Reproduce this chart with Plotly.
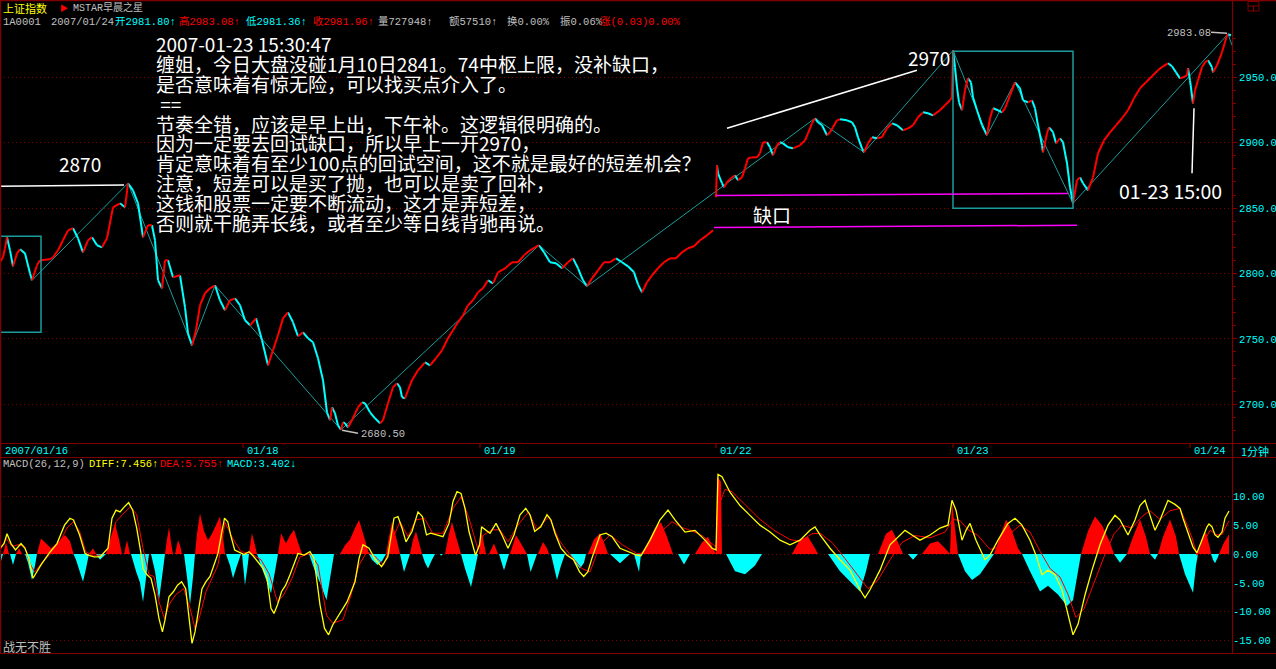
import plotly.graph_objects as go

W, H = 1276, 669

# ---------------- price panel: 1-minute closes, 2007/01/16 .. 01/24 ----------------
PRICE_X = [0, 3, 5, 7, 10, 13, 17, 20, 25, 30, 32, 37, 40, 50, 53, 58, 63, 68, 73, 78, 83, 88, 92, 97,
           102, 107, 113, 120, 125, 128, 133, 138, 143, 148, 152, 155, 158, 162, 165, 168, 173, 180,
           185, 188, 192, 196, 200, 205, 210, 215, 220, 225, 230, 235, 240, 245, 250, 256, 262, 268,
           273, 278, 283, 288, 293, 298, 303, 308, 313, 318, 323, 327, 330, 332, 335, 338, 341, 343,
           345, 348, 352, 358, 362, 365, 370, 375, 380, 383, 388, 393, 397, 400, 402, 405, 408, 412,
           418, 425, 430, 436, 442, 448, 453, 458, 463, 468, 473, 478, 483, 488, 493, 498, 505, 512,
           518, 524, 530, 535, 539, 544, 550, 556, 562, 568, 573, 578, 583, 587, 592, 598, 604, 610,
           616, 622, 628, 634, 638, 642, 647, 652, 658, 664, 670, 676, 682, 688, 694, 700, 707, 713,
           None,
           716, 717, 718, 722, 724, 727, 732, 735, 738, 742, 745, 748, 752, 757, 760, 763, 767, 770,
           773, 777, 780, 783, 788, 793, 800, 805, 808, 812, 815, 818, 822, 827, 830, 833, 837, 840,
           847, 852, 855, 858, 862, 864, 868, 872, 877, 882, 887, 892, 897, 903, 908, 913, 918, 923,
           928, 933, 940, 945, 950, 952, 953, 955, 957, 959, 962, 965, 968, 971, 973, 977, 982, 987,
           990, 993, 998, 1002, 1005, 1010, 1015, 1020, 1023, 1028, 1032, 1035, 1038, 1042, 1043,
           1047, 1049, 1053, 1056, 1060, 1063, 1067, 1070, 1073, 1077, 1080, 1083, 1088, 1093, 1098,
           1104, 1110, 1116, 1122, 1128, 1134, 1140, 1146, 1152, 1158, 1163, 1168, 1172, 1176, 1180,
           1183, 1187, 1188, 1190, 1193, 1195, 1198, 1202, 1205, 1208, 1212, 1213, 1217, 1222, 1227,
           1228, 1231]
PRICE_P = [2808.6, 2812.4, 2819.3, 2827.7, 2817.7, 2805.5, 2815.4, 2818.5, 2815.4, 2800.2, 2794.8,
           2806.3, 2810.1, 2810.9, 2812.4, 2817.7, 2825.4, 2833.0, 2834.6, 2826.9, 2816.2, 2825.4,
           2827.7, 2821.6, 2820.0, 2826.9, 2850.6, 2853.7, 2850.6, 2869.0, 2863.6, 2853.7, 2827.7,
           2836.9, 2836.9, 2825.4, 2794.8, 2788.7, 2810.1, 2810.1, 2797.1, 2798.6, 2774.2, 2754.3,
           2745.1, 2756.6, 2775.7, 2784.9, 2788.7, 2791.0, 2779.5, 2771.9, 2779.5, 2781.0, 2775.7,
           2764.2, 2760.4, 2765.7, 2748.9, 2729.8, 2741.3, 2752.8, 2765.7, 2770.3, 2762.7, 2752.0,
           2755.0, 2750.5, 2747.4, 2735.2, 2718.4, 2693.9, 2687.8, 2697.7, 2693.1, 2684.0, 2680.5,
           2686.2, 2685.5, 2682.4, 2687.8, 2697.7, 2701.5, 2700.8, 2693.9, 2689.3, 2685.5, 2687.8,
           2700.8, 2713.0, 2716.1, 2713.0, 2705.4, 2704.6, 2710.7, 2718.4, 2726.0, 2732.1, 2729.8,
           2735.2, 2741.3, 2750.5, 2756.6, 2762.7, 2768.0, 2775.7, 2779.5, 2785.6, 2788.7, 2794.8,
           2792.5, 2800.9, 2803.9, 2808.6, 2808.6, 2813.9, 2817.7, 2820.0, 2821.6, 2816.2, 2808.6,
           2807.8, 2804.0, 2808.6, 2811.6, 2804.0, 2794.8, 2790.2, 2796.3, 2802.4, 2808.6, 2808.6,
           2811.6, 2808.6, 2805.5, 2800.9, 2791.7, 2785.6, 2793.3, 2798.6, 2804.0, 2808.6, 2811.6,
           2811.6, 2816.2, 2819.3, 2820.8, 2825.4, 2829.2, 2833.0,
           None,
           2858.3, 2882.7, 2876.6, 2869.0, 2865.9, 2869.7, 2873.5, 2875.1, 2871.3, 2873.5, 2880.4,
           2888.1, 2888.8, 2888.8, 2891.9, 2900.3, 2900.3, 2896.5, 2890.4, 2898.0, 2900.3, 2899.5,
           2896.5, 2895.7, 2898.0, 2901.8, 2907.2, 2914.8, 2918.7, 2915.6, 2913.3, 2905.7, 2908.0,
           2911.8, 2917.1, 2917.9, 2917.1, 2915.6, 2911.8, 2904.1, 2895.7, 2892.7, 2899.5, 2904.1,
           2903.4, 2904.1, 2911.0, 2914.8, 2913.3, 2909.5, 2911.0, 2913.3, 2919.4, 2923.2, 2922.5,
           2920.9, 2924.8, 2928.6, 2932.4, 2934.7, 2970.6, 2957.6, 2942.4, 2930.9, 2924.8, 2940.1,
           2949.2, 2946.2, 2934.7, 2924.8, 2913.3, 2905.7, 2918.7, 2926.3, 2924.8, 2923.2, 2926.3,
           2936.2, 2946.2, 2941.6, 2932.4, 2930.9, 2932.4, 2926.3, 2913.3, 2898.0, 2892.7, 2907.2,
           2911.8, 2908.0, 2899.5, 2903.4, 2900.3, 2884.3, 2865.9, 2853.7, 2871.3, 2873.5, 2869.0,
           2863.6, 2873.5, 2891.9, 2901.8, 2907.9, 2913.3, 2918.7, 2924.8, 2933.9, 2941.6, 2946.2,
           2950.8, 2955.4, 2958.4, 2960.7, 2958.4, 2953.8, 2949.2, 2950.0, 2951.5, 2956.9, 2947.7,
           2930.1, 2940.1, 2947.7, 2957.6, 2961.5, 2963.0, 2957.6, 2953.8, 2959.2, 2969.1, 2982.1,
           2983.08, 2981.96]

# stroke pivots (笔) and hubs (中枢)
PIVOT_X = [32, 128, 192, 215, 341, 539, 587, 815, 864, 953, 987, 1015, 1073, 1228, 1232]
PIVOT_P = [2794.8, 2869.0, 2745.1, 2791.0, 2680.5, 2821.6, 2790.2, 2918.7, 2892.7, 2970.6,
           2905.7, 2946.2, 2853.7, 2983.08, 2974.5]
HUB_X0 = [0, 953]
HUB_X1 = [41, 1073]
HUB_LOW = [2755.0, 2849.8]
HUB_HIGH = [2828.4, 2969.9]

# gap of 01/19 -> 01/22 (缺口) edges
GAP_X0 = [716, 714]
GAP_X1 = [1068, 1077]
GAP_P0 = [2859.6, 2835.1]
GAP_P1 = [2861.1, 2836.9]

# hand-drawn leader lines: x0, p0, x1, p1
NOTE_LINES = [
    (0, 2866.7, 124, 2867.6, "#ffffff"),
    (727, 2911.0, 917, 2955.4, "#ffffff"),
    (1192, 2876.6, 1194, 2926.3, "#ffffff"),
    (342, 2680.2, 358, 2677.8, "#c0c0c0"),
    (1211, 2984.4, 1227, 2983.6, "#c0c0c0"),
]

PRICE_TICKS = [2700, 2750, 2800, 2850, 2900, 2950]
DAY_TICK_X = [243, 480, 716, 953, 1190]
DAY_LABEL_X = [3, 245, 482, 718, 955, 1192]
DAY_LABELS = ["2007/01/16", "01/18", "01/19", "01/22", "01/23", "01/24"]

# ---------------- MACD(26,12,9) ----------------
DIFF_X = [0, 4, 7, 11, 15.5, 21, 25, 28.6, 33, 41, 49, 57, 64.5, 70, 73.5, 79.6, 85, 88, 94, 100, 108,
          112, 116, 120, 124.5, 128.6, 132.7, 136.7, 141, 143, 147, 151, 155, 159, 162.4, 165, 169,
          173.5, 177.5, 181.6, 185.7, 188.6, 192, 195, 199, 202, 206, 210, 214, 218, 221, 224.5,
          227.8, 230.6, 234.7, 238.8, 244, 249, 253, 259, 263, 267, 271, 274, 277.5, 281.6, 285.7,
          290, 294, 298, 304, 310, 314, 320, 324.5, 328.6, 332.7, 338.8, 347, 355, 359, 363, 369,
          375.5, 381.6, 387.8, 394, 398, 402, 406, 412, 418, 422.4, 426.5, 430.6, 436.7, 443, 449,
          453, 457, 461, 465, 469, 475.5, 479.6, 481.6, 485.7, 490, 496, 502, 508, 514, 520, 525.7,
          530, 534.7, 540.8, 547, 551, 555, 561, 567, 573.5, 579.6, 583.7, 587.8, 591.8, 600, 606,
          612, 620, 628.6, 636.7,
          641, 650, 660, 668, 675, 685, 695, 705, 712, 716, 718, 722, 730, 740, 750, 760, 770, 780,
          790, 800, 810, 815, 820, 830, 840, 850, 860, 865, 870, 880, 890, 900, 905, 912, 920, 930,
          940, 948, 952, 956, 962, 966, 970, 976, 985, 990, 998, 1008, 1015, 1022, 1030, 1036, 1042,
          1048, 1055, 1062, 1068, 1073, 1078, 1085, 1092, 1100, 1108, 1115, 1120, 1128, 1135, 1140,
          1145, 1150, 1155, 1160, 1168, 1175, 1180, 1183, 1188, 1193, 1197, 1202, 1207, 1209, 1212,
          1215, 1218, 1222, 1225, 1229]
DIFF_V = [1.0, 1.8, 3.5, 1.8, 0.7, 1.8, 1.0, -0.6, -4.2, -1.9, 0.1, 1.8, 5.0, 6.2, 5.9, 3.3, 0.1,
          -0.2, -0.5, -0.5, 1.0, 6.2, 7.6, 7.3, 8.2, 8.9, 7.6, 4.5, 0.1, -2.5, -3.6, -4.2, -7.1,
          -11.2, -13.5, -11.4, -7.4, -6.5, -5.4, -4.8, -6.0, -10.6, -15.5, -13.5, -9.4, -6.0, -4.8,
          -3.9, -1.9, 0.1, 3.0, 6.2, 5.6, 3.3, 0.7, 0.3, -0.1, 0.4, -0.3, -1.6, -2.5, -4.2, -9.4,
          -10.3, -8.8, -6.5, -5.4, -3.6, -1.6, 0.1, -0.2, 0.4, -0.8, -8.8, -12.9, -14.0, -12.3, -10.6,
          -8.3, -4.8, -0.8, 1.6, 1.0, -1.0, -2.2, -0.5, 6.2, 6.5, 4.5, 2.1, 3.9, 7.3, 6.5, 3.3, 3.6,
          3.3, 3.0, 5.3, 9.1, 10.8, 10.5, 7.9, 3.9, -0.2, 1.6, 4.7, 4.2, 3.6, 5.3, 3.3, 1.0, 3.3, 6.8,
          7.9, 6.8, 3.9, 4.7, 6.8, 5.9, 3.6, 1.0, -0.2, -1.0, -3.1, -3.9, -3.1, -0.8, 3.3, 3.6, 3.0,
          1.0, 0.4, -0.2,
          -0.3, 2.4, 5.9, 7.6, 5.9, 3.8, 4.1, 2.4, 1.0, 0.7, 13.8, 13.4, 10.7, 8.4, 6.7, 5.0, 3.8,
          2.4, 1.6, 2.4, 4.1, 4.7, 3.3, 1.0, -1.0, -2.8, -6.2, -7.6, -6.2, -2.8, 1.6, 3.3, 4.1, 3.3,
          2.4, 3.3, 4.5, 5.0, 9.3, 7.6, 2.4, 4.1, 5.3, 2.4, -1.0, -0.2, 2.4, 5.3, 6.2, 5.0, 2.4,
          -0.2, -3.6, -2.8, -3.6, -6.2, -10.5, -14.0, -12.2, -7.1, -2.8, 1.6, 5.0, 6.7, 5.9, 3.3,
          5.9, 8.4, 9.3, 6.7, 4.1, 5.9, 9.3, 8.6, 7.9, 6.2, 3.8, 1.2, 0.2, 2.4, 4.7, 5.2, 4.7, 3.3,
          2.9, 3.8, 6.2, 7.456]

DEA_X = [0, 6, 12, 18, 24.5, 30.6, 34.7, 43, 51, 59, 67, 73.5, 79.6, 85.7, 92, 102, 110, 116, 122.4,
         130.6, 136.7, 143, 149, 154, 159, 164.5, 169, 175.5, 183.7, 190, 195, 200, 206, 212, 218,
         225, 232.7, 241, 251, 261, 269, 277.5, 283.7, 292, 300, 310, 318, 326.5, 332.7, 343, 351,
         359, 367, 375.5, 383.7, 392, 400, 408, 416, 424.5, 432.6, 443, 453, 461, 469, 477.6, 483.7,
         492, 500, 508, 518, 528.6, 536.7, 549, 559, 569, 581.6, 590, 600, 610, 622.4, 636.7,
         641, 652, 662, 672, 682, 692, 702, 712, 716, 719, 725, 732, 745, 760, 775, 790, 800, 812,
         820, 832, 845, 858, 868, 878, 890, 902, 915, 930, 945, 953, 960, 968, 978, 990, 1000, 1012,
         1020, 1030, 1040, 1050, 1060, 1068, 1076, 1084, 1094, 1104, 1114, 1122, 1132, 1142, 1150,
         1160, 1170, 1180, 1185, 1192, 1197, 1203, 1210, 1217, 1222, 1229]
DEA_V = [0.5, 2.7, 1.3, 1.6, 1.3, -1.9, -3.1, -1.3, 0.1, 1.8, 4.5, 5.6, 3.9, 0.4, -0.2, -0.2, 1.3,
         5.6, 6.8, 8.2, 6.8, 1.0, -3.6, -3.9, -8.3, -11.2, -8.8, -7.1, -6.0, -9.4, -12.9, -10.6,
         -6.5, -4.2, -1.9, 5.5, 2.7, 0.4, 0.1, -1.0, -3.4, -8.3, -7.1, -4.2, -0.5, 0.1, -1.9, -10.6,
         -12.0, -11.4, -7.1, -1.9, 0.4, -0.5, -1.9, 2.4, 5.6, 3.0, 5.9, 6.2, 3.6, 3.6, 7.9, 9.9, 6.2,
         1.0, 3.3, 4.2, 4.2, 2.1, 5.0, 7.3, 4.2, 6.5, 2.4, 0.1, -2.5, -3.1, 1.6, 3.3, 1.6, 0.1,
         0.1, 1.8, 4.0, 5.6, 4.6, 4.0, 3.2, 1.8, 1.2, 8.5, 11.2, 10.8, 8.5, 6.0, 4.0, 2.5, 2.2, 3.5,
         3.6, 2.0, -0.8, -3.8, -6.0, -4.5, -1.0, 2.0, 3.2, 2.8, 3.8, 6.0, 5.8, 4.2, 3.2, 0.8, 1.2,
         3.8, 5.0, 3.8, 0.5, -2.5, -4.0, -7.0, -11.0, -9.5, -5.0, -0.5, 3.5, 5.0, 4.5, 6.5, 7.5,
         6.0, 7.5, 7.9, 5.9, 2.8, -0.2, 1.9, 4.1, 3.3, 3.4, 5.755]

HIST_X = [0, 2, 3, 6, 9, 10, 13, 16, 19, 22, 25, 28, 32, 35, 37, 41, 46, 51, 58, 65, 70, 73.5, 76,
          80, 83, 86, 89, 93, 96, 100, 106, 110, 115, 119, 122, 124, 127, 130, 131, 136, 140, 143,
          147, 149, 151, 155, 159, 162, 165, 167, 169, 171, 173, 175, 178, 180, 182, 184, 187, 190,
          193, 195, 197, 200, 204, 208, 212, 216, 220, 223, 225, 226, 230, 233, 237, 241, 242, 245,
          248, 249, 250.5, 252, 255, 257, 262, 266, 271, 275, 278, 281, 284, 286, 290, 294, 298, 302,
          309, 315, 320, 326.5, 330, 334, 340, 345, 350, 355, 359, 364, 369, 372, 377.5, 382, 386,
          389, 392, 396, 400, 404, 407, 410, 413, 416, 419, 422, 425, 428, 432, 435, 440, 441, 443,
          445, 449, 452, 456, 461, 465, 471, 475, 478, 479, 481.6, 484, 486, 489, 494, 498, 499, 504,
          509, 510, 516, 521, 527, 530.6, 534, 537, 538, 543, 547, 549, 551, 557, 561, 565, 570, 575,
          580, 584, 586, 588, 594, 600, 604, 608, 610, 620, 630, 634, 639,
          641, 648, 655, 661, 667, 673, 678, 684, 690, 695, 702, 708, 713, 716, 717, 721, 722, 726,
          735, 745, 755, 762, 792, 800, 808, 815, 818, 828, 840, 852, 860, 866, 870, 878, 886, 892,
          898, 903, 908, 913, 918, 922, 930, 938, 945, 950, 952, 955, 958, 965, 972, 980, 990, 994,
          1000, 1006, 1012, 1018, 1022, 1030, 1040, 1048, 1058, 1067, 1073, 1078, 1081, 1088, 1095,
          1102, 1110, 1114, 1120, 1127, 1132, 1140, 1146, 1150, 1155, 1158, 1163, 1170, 1176, 1179,
          1185, 1193, 1196, 1198, 1203, 1206, 1210, 1211, 1213, 1215, 1218, 1219, 1224, 1229]
HIST_V = [-1.9, -0.5, 0, 2.0, 0, 0, -1.9, 0, 1.0, 0, 0, -1.5, -4.5, -2.0, 0, 2.7, 1.8, 1.0, 2.0, 3.3,
          2.2, 0, -1.0, -3.0, -4.8, -2.5, 0, 1.0, 0, -1.0, 0, 2.5, 5.3, 2.5, 0, 0, 2.4, 0, 0, -3.0,
          -5.0, -8.3, -3.0, 0, 0, -3.0, -8.0, -4.0, 0, 2.5, 4.7, 2.0, 0, 0, 2.4, 1.5, 0, 0, -4.0,
          -8.8, -4.0, 0, 3.5, 7.0, 4.0, 2.4, 3.5, 5.0, 6.5, 3.0, 0, 0, -2.0, -4.2, -2.0, 0, 0, -5.4,
          -1.5, 0, 2.0, 3.6, 1.5, 0, -2.5, -4.5, -6.8, -3.0, 0, 3.6, 2.5, 1.8, 3.2, 4.2, 2.0, 0, 0,
          -3.0, -5.0, -8.0, -4.0, 0, 0, 1.5, 2.5, 4.5, 5.9, 3.0, 0, -1.0, -1.9, -1.2, 0, 3.0, 5.6,
          3.0, 0, -3.1, -1.5, 0, 2.5, 3.9, 2.0, 0, -1.5, -2.5, -1.0, 0, 0, -0.3, 0, 0, 3.5, 5.6, 3.0,
          0, -2.5, -5.7, -2.5, 0, 0, 3.9, 2.0, 0, 0, 1.8, 0, 0, -2.8, 0, 0, 3.3, 1.8, 0, -3.1, -1.5,
          0, 0, 2.1, 1.0, 0, 0, -4.5, -2.0, 0, 0, -1.5, -2.5, -1.5, 0, 0, 2.5, 3.6, 2.0, 0, 0, -1.6,
          0, 0, -3.1,
          0, 2.0, 4.5, 5.5, 3.0, 0, 0, -1.8, 0, 0, 2.0, 3.0, 1.0, 0, 13.5, 12.5, 0, 0, -3.0, -3.5,
          -2.0, 0, 0, 2.5, 3.0, 1.0, 0, 0, -3.0, -5.0, -6.5, -3.0, 0, 0, 3.5, 4.2, 2.0, 0, 0, -1.0,
          0, 0, 1.8, 2.2, 1.0, 0, 9.0, 4.0, 0, -3.0, -4.5, -3.5, -1.0, 0, 3.0, 6.0, 4.0, 1.0, 0,
          -3.0, -6.5, -5.5, -7.0, -9.0, -8.0, -3.0, 0, 4.0, 6.5, 5.0, 2.0, 0, -1.5, 0, 2.5, 6.0, 3.0,
          0, -1.0, 0, 3.0, 6.0, 3.0, 0, -3.5, -6.7, -2.0, 0, 3.0, 3.8, 1.0, 0, -1.0, -1.6, -0.5, 0,
          2.0, 3.402]

MACD_TICKS = [-15, -10, -5, 0, 5, 10]

# ---------------- colours ----------------
BG = "#000000"
FRAME = "#800000"
UP = "#ff0000"
DOWN = "#00ffff"
STROKE = "#1a9c9c"
GAP = "#ff00ff"
GREY = "#c0c0c0"
YELLOW = "#ffff00"
MONO = "Liberation Mono, DejaVu Sans Mono, Noto Sans CJK SC, monospace"
CJK = "Noto Sans CJK SC, sans-serif"


def px(x):
    return x / W


def py(y):
    return 1 - y / H


PLOT_RIGHT = 1232
MAIN_TOP, MAIN_BOTTOM = 28, 443
MACD_TOP, MACD_BOTTOM = 470, 653
P_PER_PX = 1.308
P_REF, P_REF_Y = 2950.0, 77.3
V_PER_PX = 5.77
V_ZERO_Y = 554.0

price_lo = P_REF - (MAIN_BOTTOM - P_REF_Y) / P_PER_PX
price_hi = P_REF + (P_REF_Y - MAIN_TOP) / P_PER_PX
macd_lo = -(MACD_BOTTOM - V_ZERO_Y) / V_PER_PX
macd_hi = (V_ZERO_Y - MACD_TOP) / V_PER_PX

fig = go.Figure()

# stroke zigzag
fig.add_trace(go.Scatter(x=PIVOT_X, y=PIVOT_P, mode="lines",
                         line=dict(color=STROKE, width=1), hoverinfo="skip",
                         xaxis="x", yaxis="y"))

# price line, red on rising minutes and cyan on falling ones
up_x, up_y, dn_x, dn_y = [], [], [], []
for i in range(len(PRICE_X) - 1):
    x0, x1 = PRICE_X[i], PRICE_X[i + 1]
    p0, p1 = PRICE_P[i], PRICE_P[i + 1]
    if x0 is None or x1 is None:
        continue
    if p1 >= p0:
        up_x += [x0, x1, None]
        up_y += [p0, p1, None]
    else:
        dn_x += [x0, x1, None]
        dn_y += [p0, p1, None]
fig.add_trace(go.Scatter(x=dn_x, y=dn_y, mode="lines", line=dict(color=DOWN, width=2),
                         connectgaps=False, hoverinfo="skip", xaxis="x", yaxis="y"))
fig.add_trace(go.Scatter(x=up_x, y=up_y, mode="lines", line=dict(color=UP, width=2),
                         connectgaps=False, hoverinfo="skip", xaxis="x", yaxis="y"))

# MACD histogram
fig.add_trace(go.Scatter(x=HIST_X, y=[v if v > 0 else 0 for v in HIST_V], mode="lines",
                         line=dict(width=0, color=UP), fill="tozeroy", fillcolor=UP,
                         hoverinfo="skip", xaxis="x2", yaxis="y2"))
fig.add_trace(go.Scatter(x=HIST_X, y=[v if v < 0 else 0 for v in HIST_V], mode="lines",
                         line=dict(width=0, color=DOWN), fill="tozeroy", fillcolor=DOWN,
                         hoverinfo="skip", xaxis="x2", yaxis="y2"))
fig.add_trace(go.Scatter(x=DEA_X, y=DEA_V, mode="lines", line=dict(color=UP, width=1),
                         hoverinfo="skip", xaxis="x2", yaxis="y2"))
fig.add_trace(go.Scatter(x=DIFF_X, y=DIFF_V, mode="lines", line=dict(color=YELLOW, width=1.3),
                         hoverinfo="skip", xaxis="x2", yaxis="y2"))

shapes = []
# hubs
for x0, x1, lo, hi in zip(HUB_X0, HUB_X1, HUB_LOW, HUB_HIGH):
    shapes.append(dict(type="rect", xref="x", yref="y", x0=x0, x1=x1, y0=lo, y1=hi,
                       line=dict(color=STROKE, width=1.5)))
# gap edges
for x0, x1, p0, p1 in zip(GAP_X0, GAP_X1, GAP_P0, GAP_P1):
    shapes.append(dict(type="line", xref="x", yref="y", x0=x0, x1=x1, y0=p0, y1=p1,
                       line=dict(color=GAP, width=1.5)))
# leader lines
for x0, p0, x1, p1, c in NOTE_LINES:
    shapes.append(dict(type="line", xref="x", yref="y", x0=x0, x1=x1, y0=p0, y1=p1,
                       line=dict(color=c, width=1.5)))


# frame
def hline(y, x0=0, x1=W, w=1.2):
    shapes.append(dict(type="line", xref="paper", yref="paper", x0=px(x0), x1=px(x1),
                       y0=py(y), y1=py(y), line=dict(color=FRAME, width=w)))


def vline(x, y0, y1, w=1.2):
    shapes.append(dict(type="line", xref="paper", yref="paper", x0=px(x), x1=px(x),
                       y0=py(y0), y1=py(y1), line=dict(color=FRAME, width=w)))


hline(0.6)
hline(443.5)
hline(457.5)
hline(653.5)
vline(0.6, 0, 653.5)
vline(PLOT_RIGHT + 0.5, 0, 653.5)
for tx in DAY_TICK_X:
    shapes.append(dict(type="line", xref="x", yref="paper", x0=tx, x1=tx,
                       y0=py(443.5), y1=py(448), line=dict(color=FRAME, width=1.2)))
# small window icon at top right
shapes.append(dict(type="rect", xref="paper", yref="paper", x0=px(1248), x1=px(1259),
                   y0=py(11), y1=py(1.5), line=dict(color=FRAME, width=1)))
hline(6, 1248, 1259, 1)
vline(1253.5, 6, 11, 1)

annotations = []


def text(x, y, s, color, size, family=CJK, anchor="left", yanchor="middle"):
    annotations.append(dict(x=px(x), y=py(y), xref="paper", yref="paper", text=s,
                            showarrow=False, xanchor=anchor, yanchor=yanchor, align="left",
                            font=dict(color=color, size=size, family=family)))


# title rows
text(1, 8, "上证指数", YELLOW, 11)
text(58, 8, "▶", UP, 8)
text(71, 8, "MSTAR早晨之星", GREY, 10, MONO)
HEADER = [(1, "1A0001", GREY), (49, "2007/01/24", GREY), (113, "开2981.80↑", DOWN),
          (177, "高2983.08↑", UP), (244, "低2981.36↑", DOWN), (311, "收2981.96↑", UP),
          (376, "量727948↑", GREY), (447, "额57510↑", GREY), (505, "换0.00%", GREY),
          (558, "振0.06%", GREY), (598, "涨(0.03)0.00%", UP)]
for hx, s, c in HEADER:
    text(hx, 22, s, c, 10.5, MONO)

# commentary block: tight 20px line pitch with 19px glyphs
COMMENT = [
    "2007-01-23 15:30:47",
    "缠姐，今日大盘没碰1月10日2841。74中枢上限，没补缺口，",
    "是否意味着有惊无险，可以找买点介入了。",
    "\u00a0==",
    "节奏全错，应该是早上出，下午补。这逻辑很明确的。",
    "因为一定要去回试缺口，所以早上一开2970，",
    "肯定意味着有至少100点的回试空间，这不就是最好的短差机会？",
    "注意，短差可以是买了抛，也可以是卖了回补，",
    "这钱和股票一定要不断流动，这才是弄短差，",
    "否则就干脆弄长线，或者至少等日线背驰再说。",
]
block = "<br>".join(f'<span style="font-size:19px">{s}</span>' for s in COMMENT)
text(154, 133, block, "#ffffff", 15.3)

text(57, 164, "2870", "#ffffff", 19)
text(906, 57, "2970", "#ffffff", 19)
text(751, 215, "缺口", "#ffffff", 19)
text(1117, 190, "01-23 15:00", "#ffffff", 19.5)
text(359, 434, "2680.50", GREY, 10.5, MONO)
text(1165, 33, "2983.08", GREY, 10.5, MONO)

# date strip
for lx, s in zip(DAY_LABEL_X, DAY_LABELS):
    annotations.append(dict(x=lx, y=py(450.5), xref="x", yref="paper", text=s, showarrow=False,
                            xanchor="left", yanchor="middle",
                            font=dict(color=DOWN, size=10.5, family=MONO)))
text(1239, 450.5, "1分钟", DOWN, 11)

# MACD caption
MACD_HEAD = [(1, "MACD(26,12,9)", GREY), (87, "DIFF:7.456↑", YELLOW), (158, "DEA:5.755↑", UP),
             (225, "MACD:3.402↓", DOWN)]
for hx, s, c in MACD_HEAD:
    text(hx, 464, s, c, 10.5, MONO)

text(1, 646, "战无不胜", GREY, 12)

fig.update_layout(
    width=W, height=H, margin=dict(l=0, r=0, t=0, b=0),
    paper_bgcolor=BG, plot_bgcolor=BG, showlegend=False,
    shapes=shapes, annotations=annotations,
    xaxis=dict(domain=[0, px(PLOT_RIGHT)], range=[0, PLOT_RIGHT], showgrid=False,
               zeroline=False, showticklabels=False, ticks="", showline=False, fixedrange=True),
    yaxis=dict(domain=[py(MAIN_BOTTOM), py(MAIN_TOP)], range=[price_lo, price_hi], side="right",
               anchor="x", tickvals=PRICE_TICKS, ticktext=[f"{v:.1f}" for v in PRICE_TICKS],
               tickfont=dict(color=DOWN, size=10.5, family=MONO), ticks="outside", ticklen=4,
               tickcolor=FRAME, tickwidth=1,
               minor=dict(dtick=10, tick0=0, ticks="outside", ticklen=3, tickcolor=FRAME,
                          showgrid=False),
               showgrid=True, gridcolor=FRAME, gridwidth=1, griddash="1px,3px",
               zeroline=False, showline=False, fixedrange=True),
    xaxis2=dict(domain=[0, px(PLOT_RIGHT)], range=[0, PLOT_RIGHT], anchor="y2", showgrid=False,
                zeroline=False, showticklabels=False, ticks="", showline=False, fixedrange=True),
    yaxis2=dict(domain=[py(MACD_BOTTOM), py(MACD_TOP)], range=[macd_lo, macd_hi], side="right",
                anchor="x2", tickvals=MACD_TICKS, ticktext=[f"{v:.2f}" for v in MACD_TICKS],
                tickfont=dict(color=DOWN, size=10.5, family=MONO), ticks="",
                showgrid=True, gridcolor=FRAME, gridwidth=1, griddash="1px,3px",
                zeroline=False, showline=False, fixedrange=True),
)

fig.write_html("out.html")
